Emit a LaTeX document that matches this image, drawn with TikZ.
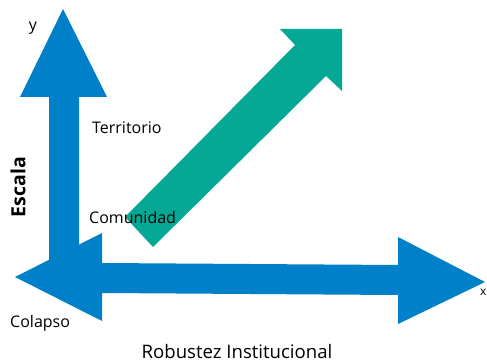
\documentclass[tikz,border=0pt]{standalone}
\usepackage{fontspec}
\setmainfont{Open Sans}
\definecolor{axisblue}{RGB}{0,128,200}
\definecolor{trendgreen}{RGB}{4,168,148}
\begin{document}
\begin{tikzpicture}[x=1pt,y=-1pt,
  lbl/.style={inner sep=0pt,font=\fontsize{16}{19}\selectfont},
  biglbl/.style={inner sep=0pt,font=\fontsize{18.6}{22}\selectfont}]
\useasboundingbox (0,0) rectangle (487,363);
% vertical axis arrow
\fill[axisblue] (63,9) -- (107,97) -- (79,97) -- (79,270) -- (49,270) -- (49,97) -- (20,97) -- cycle;
% horizontal double-headed axis arrow
\fill[axisblue] (15,277) -- (102,233) -- (102,263) -- (398,265) -- (398,237) -- (485,282)
  -- (398,324) -- (398,295) -- (102,293) -- (102,321) -- cycle;
% diagonal trend arrow
\fill[trendgreen] (125,217) -- (295,45) -- (280,29) -- (342,29) -- (342,91) -- (326,76) -- (153,247) -- cycle;
% labels
\node[lbl] (ylab) at (33,28) {y};
\node[lbl,anchor=west] (terr) at (92,128) {Territorio};
\node[lbl,anchor=west] (com) at (89,218) {Comunidad};
\node[lbl,anchor=west] (col) at (10,323) {Colapso};
\node[inner sep=0pt,font=\fontsize{12}{14}\selectfont,anchor=east] (xlab) at (486.5,292) {x};
\node[biglbl] (rob) at (237,352) {Robustez Institucional};
\node[inner sep=0pt,font=\fontsize{19.5}{22}\selectfont\bfseries,rotate=90] (esc) at (18,187) {Escala};
\end{tikzpicture}
\end{document}
